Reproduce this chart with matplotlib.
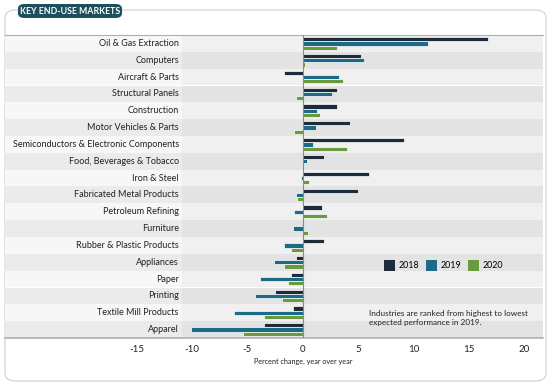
import matplotlib.pyplot as plt
import numpy as np
from matplotlib.patches import FancyBboxPatch, Rectangle, Patch

plt.rcParams['font.family'] = ['Lato', 'DejaVu Sans']

categories = ["Oil & Gas Extraction", "Computers", "Aircraft & Parts", "Structural Panels",
              "Construction", "Motor Vehicles & Parts", "Semiconductors & Electronic Components",
              "Food, Beverages & Tobacco", "Iron & Steel", "Fabricated Metal Products",
              "Petroleum Refining", "Furniture", "Rubber & Plastic Products", "Appliances",
              "Paper", "Printing", "Textile Mill Products", "Apparel"]
v2018 = [16.75, 5.3, -1.7, 3.1, 3.1, 4.3, 9.1, 1.9, 6.0, 5.0, 1.7, -0.1, 1.9, -0.6, -1.1, -2.5, -0.9, -3.5]
v2019 = [11.3, 5.5, 3.3, 2.6, 1.3, 1.2, 0.9, 0.4, -0.2, -0.6, -0.8, -0.9, -1.7, -2.6, -3.9, -4.3, -6.2, -10.1]
v2020 = [3.1, 0.2, 3.6, -0.6, 1.6, -0.8, 4.0, -0.1, 0.6, -0.5, 2.2, 0.5, -1.1, -1.7, -1.3, -1.9, -3.5, -5.4]
years = ["2018", "2019", "2020"]
colors = ["#1e2b3a", "#1b6a86", "#6b9a3e"]
xticks = [-15, -10, -5, 0, 5, 10, 15, 20]

fig = plt.figure(figsize=(5.5, 3.85), dpi=100)
W, H = 550, 385

# card behind everything
card = FancyBboxPatch((5 / W, 4 / H), 541 / W, 371 / H, boxstyle="round,pad=0,rounding_size=0.02",
                      transform=fig.transFigure, facecolor="white", edgecolor="#d0d0d0", lw=0.8, zorder=-10)
fig.add_artist(card)

ax = fig.add_axes([5 / W, 47 / H, 538 / W, 303 / H])
ax.set_zorder(1)
n = len(categories)
xmin, xmax = -26.9, 21.7
ax.set_xlim(xmin, xmax)
ax.set_ylim(n - 0.5, -0.5)

label_edge = -10.9
for i in range(n):
    if i % 2 == 0:
        c_lab, c_plot = "#f7f7f7", "#f0f0f0"
    else:
        c_lab, c_plot = "#ebebeb", "#e3e3e3"
    ax.add_patch(Rectangle((xmin, i - 0.5), label_edge - xmin, 1, facecolor=c_lab, edgecolor="none", zorder=0))
    ax.add_patch(Rectangle((label_edge, i - 0.5), xmax - label_edge, 1, facecolor=c_plot, edgecolor="none", zorder=0))
    ax.text(label_edge - 0.3, i, categories[i], ha="right", va="center", fontsize=6.5, color="#222222")

y = np.arange(n)
h = 0.25
for k, (vals, col) in enumerate(zip([v2018, v2019, v2020], colors)):
    ax.barh(y + (k - 1) * h, vals, height=h, color=col, edgecolor="white", linewidth=0.5, zorder=2)

ax.axvline(0, color="#8a8a8a", lw=0.8, zorder=3)
for s in ["left", "right"]:
    ax.spines[s].set_visible(False)
ax.spines["top"].set_color("#b0b0b0")
ax.spines["bottom"].set_color("#b0b0b0")
ax.spines["bottom"].set_linewidth(1.2)
ax.set_yticks([])
ax.set_xticks(xticks)
ax.set_xticklabels([str(t) for t in xticks], fontsize=7, color="#222222")
ax.tick_params(axis="x", length=0, pad=5)
ax.set_xlabel("Percent change, year over year", fontsize=5.2, color="#222222")
ax.xaxis.set_label_coords((0 - xmin) / (xmax - xmin), -0.065)

handles = [Patch(facecolor=c, edgecolor="none", label=yr) for c, yr in zip(colors, years)]
ax.legend(handles=handles, loc="center left", bbox_to_anchor=(0.705, 0.239), ncol=3, frameon=False,
          fontsize=6.4, handlelength=1.2, handleheight=1.6, handletextpad=0.4, columnspacing=0.8,
          borderpad=0, borderaxespad=0)
ax.text(6.0, 16.3, "Industries are ranked from highest to lowest\nexpected performance in 2019.",
        fontsize=5.9, color="#222222", va="center", ha="left", linespacing=1.3)

# title badge
badge = FancyBboxPatch((18 / W, (385 - 18) / H), 104 / W, 14 / H, boxstyle="round,pad=0,rounding_size=0.012",
                       transform=fig.transFigure, facecolor="#1d4f5c", edgecolor="none", zorder=5)
fig.add_artist(badge)
fig.text(70 / W, (385 - 11) / H, "KEY END-USE MARKETS", color="white", fontsize=6.3,
         fontweight="bold", ha="center", va="center", zorder=6)

fig.savefig("out.png", dpi=100)
